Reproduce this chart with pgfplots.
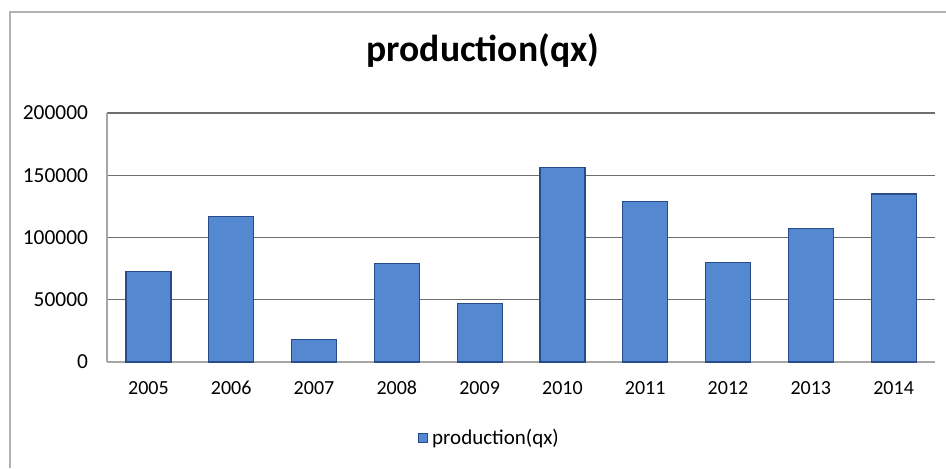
\documentclass[border=0pt]{standalone}
\usepackage{pgfplots}
\pgfplotsset{compat=1.18}
\usepackage{fontspec}
\setmainfont{Carlito}
\definecolor{barfill}{RGB}{84,136,208}
\definecolor{baredge}{RGB}{40,75,140}
\definecolor{gridc}{RGB}{110,110,110}
\begin{document}
\begin{tikzpicture}
\path[use as bounding box] (0pt,0pt) rectangle (473pt,234pt);
\draw[gray!60, line width=0.6pt] (5pt,0pt) -- (5pt,228pt) -- (473pt,228pt);
\begin{axis}[
  at={(53.5pt,53pt)}, anchor=south west,
  scale only axis, width=414pt, height=124.5pt,
  xmin=-0.5, xmax=9.5, ymin=0, ymax=200000,
  ytick={0,50000,100000,150000,200000},
  xtick=data,
  xticklabels={2005,2006,2007,2008,2009,2010,2011,2012,2013,2014},
  scaled y ticks=false,
  /pgf/number format/fixed,
  /pgf/number format/1000 sep={},
  /pgf/number format/assume math mode=true,
  axis lines*=left,
  axis line style={-, draw=gray!70, line width=0.6pt},
  major tick length=0pt,
  ymajorgrids, grid style={gridc, line width=0.7pt},
  xticklabel style={font=\fontsize{10}{12}\selectfont, yshift=-6pt},
  yticklabel style={font=\fontsize{10.7}{12}\selectfont, xshift=-6pt},
  title={\textbf{production(qx)}},
  title style={font=\fontsize{18.8}{22}\selectfont, anchor=center, at={(axis description cs:0.454,1)}, yshift=25.5pt},
  legend style={at={(axis description cs:0.463,-0.305)}, anchor=center, draw=none, font=\fontsize{10.5}{12}\selectfont,
    legend image code/.code={\draw[fill=barfill, draw=baredge] (0cm,-0.08cm) rectangle (0.16cm,0.08cm);}},
]
\addplot[ybar, bar width=22.5pt, fill=barfill, draw=baredge, line width=0.6pt] coordinates {
(0,73000) (1,117000) (2,18000) (3,79000) (4,47000) (5,156000) (6,129000) (7,80000) (8,107000) (9,135000)};
\addlegendentry{production(qx)}
\end{axis}
\end{tikzpicture}
\end{document}
